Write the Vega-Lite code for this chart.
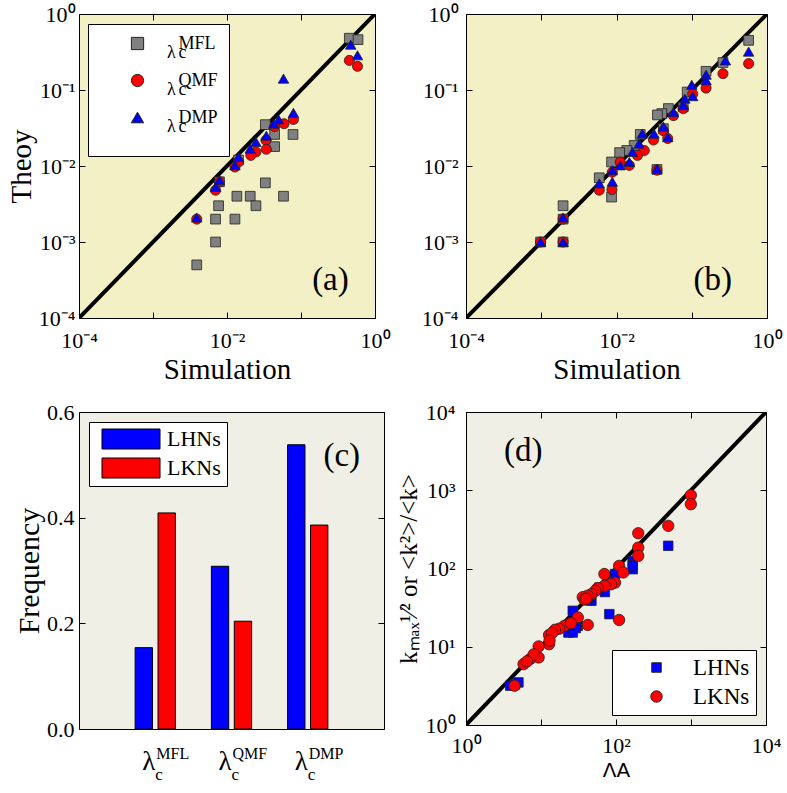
{
  "$schema": "https://vega.github.io/schema/vega-lite/v6.json",
  "background": "white",
  "padding": {"left": 6, "top": 2, "right": 5, "bottom": 3},
  "bounds": "flush",
  "columns": 2,
  "spacing": {"row": 94, "column": 82},
  "resolve": {
    "scale": {"color": "independent", "shape": "independent", "size": "independent"},
    "legend": {"color": "independent", "shape": "independent", "size": "independent"}
  },
  "config": {
    "font": "Liberation Serif",
    "view": {"stroke": "black", "strokeWidth": 1},
    "style": {"guide-label": {"lineHeight": 9.5}},
    "axis": {
      "labelFont": "Liberation Serif", "labelFontSize": 22, "labelColor": "black",
      "titleFont": "Liberation Serif", "titleFontSize": 29, "titleFontWeight": "normal", "titleColor": "black",
      "domain": false, "grid": false, "tickColor": "black", "tickSize": -6,
      "labelFlush": false, "labelOverlap": false, "labelPadding": 6
    },
    "legend": {
      "labelFont": "Liberation Serif", "labelColor": "black", "labelLimit": 0,
      "fillColor": "white", "strokeColor": "black"
    }
  },
  "datasets": {
    "diag": [{"x": 0.0001, "y": 0.0001}, {"x": 1, "y": 1}],
    "diagd": [{"x": 1, "y": 1}, {"x": 10000, "y": 10000}],
    "a": [
      {"m": "MFL", "sim": 0.45, "th": 0.48}, {"m": "MFL", "sim": 0.59, "th": 0.46},
      {"m": "MFL", "sim": 0.033, "th": 0.035}, {"m": "MFL", "sim": 0.044, "th": 0.026},
      {"m": "MFL", "sim": 0.078, "th": 0.026}, {"m": "MFL", "sim": 0.044, "th": 0.018},
      {"m": "MFL", "sim": 0.033, "th": 0.006}, {"m": "MFL", "sim": 0.0136, "th": 0.004},
      {"m": "MFL", "sim": 0.0206, "th": 0.004}, {"m": "MFL", "sim": 0.058, "th": 0.004},
      {"m": "MFL", "sim": 0.0246, "th": 0.003}, {"m": "MFL", "sim": 0.0077, "th": 0.003},
      {"m": "MFL", "sim": 0.007, "th": 0.002}, {"m": "MFL", "sim": 0.0128, "th": 0.002},
      {"m": "MFL", "sim": 0.007, "th": 0.001}, {"m": "MFL", "sim": 0.0039, "th": 0.0005},
      {"m": "MFL", "sim": 0.0079, "th": 0.0062}, {"m": "MFL", "sim": 0.0143, "th": 0.012},
      {"m": "QMF", "sim": 0.45, "th": 0.245}, {"m": "QMF", "sim": 0.58, "th": 0.205},
      {"m": "QMF", "sim": 0.079, "th": 0.041}, {"m": "QMF", "sim": 0.059, "th": 0.036},
      {"m": "QMF", "sim": 0.044, "th": 0.033}, {"m": "QMF", "sim": 0.0336, "th": 0.0218},
      {"m": "QMF", "sim": 0.034, "th": 0.0166}, {"m": "QMF", "sim": 0.0246, "th": 0.0153},
      {"m": "QMF", "sim": 0.021, "th": 0.0138}, {"m": "QMF", "sim": 0.0143, "th": 0.0113},
      {"m": "QMF", "sim": 0.0128, "th": 0.0097}, {"m": "QMF", "sim": 0.0079, "th": 0.0062},
      {"m": "QMF", "sim": 0.007, "th": 0.0048}, {"m": "QMF", "sim": 0.0039, "th": 0.002},
      {"m": "DMP", "sim": 0.47, "th": 0.395}, {"m": "DMP", "sim": 0.58, "th": 0.286},
      {"m": "DMP", "sim": 0.058, "th": 0.141}, {"m": "DMP", "sim": 0.079, "th": 0.05},
      {"m": "DMP", "sim": 0.0498, "th": 0.041}, {"m": "DMP", "sim": 0.043, "th": 0.036},
      {"m": "DMP", "sim": 0.034, "th": 0.025}, {"m": "DMP", "sim": 0.0246, "th": 0.0207},
      {"m": "DMP", "sim": 0.0206, "th": 0.0169}, {"m": "DMP", "sim": 0.0143, "th": 0.0132},
      {"m": "DMP", "sim": 0.0128, "th": 0.0102}, {"m": "DMP", "sim": 0.0079, "th": 0.0065},
      {"m": "DMP", "sim": 0.007, "th": 0.0053}, {"m": "DMP", "sim": 0.0039, "th": 0.0021}
    ],
    "b": [
      {"m": "MFL", "sim": 0.57, "th": 0.45}, {"m": "MFL", "sim": 0.26, "th": 0.23},
      {"m": "MFL", "sim": 0.155, "th": 0.176}, {"m": "MFL", "sim": 0.087, "th": 0.094},
      {"m": "MFL", "sim": 0.049, "th": 0.057}, {"m": "MFL", "sim": 0.04, "th": 0.049},
      {"m": "MFL", "sim": 0.035, "th": 0.047}, {"m": "MFL", "sim": 0.0207, "th": 0.026},
      {"m": "MFL", "sim": 0.0172, "th": 0.0187}, {"m": "MFL", "sim": 0.0137, "th": 0.016},
      {"m": "MFL", "sim": 0.011, "th": 0.015}, {"m": "MFL", "sim": 0.0086, "th": 0.0113},
      {"m": "MFL", "sim": 0.0059, "th": 0.007}, {"m": "MFL", "sim": 0.0086, "th": 0.0039},
      {"m": "MFL", "sim": 0.00195, "th": 0.003}, {"m": "MFL", "sim": 0.00098, "th": 0.001},
      {"m": "MFL", "sim": 0.00195, "th": 0.001}, {"m": "MFL", "sim": 0.00195, "th": 0.002},
      {"m": "MFL", "sim": 0.0345, "th": 0.009}, {"m": "MFL", "sim": 0.042, "th": 0.031},
      {"m": "MFL", "sim": 0.077, "th": 0.06},
      {"m": "QMF", "sim": 0.57, "th": 0.222}, {"m": "QMF", "sim": 0.26, "th": 0.164},
      {"m": "QMF", "sim": 0.155, "th": 0.106}, {"m": "QMF", "sim": 0.103, "th": 0.089},
      {"m": "QMF", "sim": 0.077, "th": 0.057}, {"m": "QMF", "sim": 0.057, "th": 0.046},
      {"m": "QMF", "sim": 0.042, "th": 0.029}, {"m": "QMF", "sim": 0.048, "th": 0.023},
      {"m": "QMF", "sim": 0.031, "th": 0.022}, {"m": "QMF", "sim": 0.0234, "th": 0.016},
      {"m": "QMF", "sim": 0.019, "th": 0.0138}, {"m": "QMF", "sim": 0.0148, "th": 0.0102},
      {"m": "QMF", "sim": 0.0112, "th": 0.0113}, {"m": "QMF", "sim": 0.0088, "th": 0.0083},
      {"m": "QMF", "sim": 0.0059, "th": 0.0048}, {"m": "QMF", "sim": 0.0087, "th": 0.0049},
      {"m": "QMF", "sim": 0.0345, "th": 0.0088}, {"m": "QMF", "sim": 0.00195, "th": 0.002},
      {"m": "QMF", "sim": 0.00098, "th": 0.001}, {"m": "QMF", "sim": 0.00195, "th": 0.001},
      {"m": "DMP", "sim": 0.57, "th": 0.32}, {"m": "DMP", "sim": 0.28, "th": 0.245},
      {"m": "DMP", "sim": 0.155, "th": 0.159}, {"m": "DMP", "sim": 0.155, "th": 0.134},
      {"m": "DMP", "sim": 0.1, "th": 0.117}, {"m": "DMP", "sim": 0.103, "th": 0.083},
      {"m": "DMP", "sim": 0.081, "th": 0.077}, {"m": "DMP", "sim": 0.077, "th": 0.063},
      {"m": "DMP", "sim": 0.057, "th": 0.051}, {"m": "DMP", "sim": 0.042, "th": 0.033},
      {"m": "DMP", "sim": 0.048, "th": 0.024}, {"m": "DMP", "sim": 0.0315, "th": 0.0267},
      {"m": "DMP", "sim": 0.022, "th": 0.0267}, {"m": "DMP", "sim": 0.02, "th": 0.0197},
      {"m": "DMP", "sim": 0.0163, "th": 0.0153}, {"m": "DMP", "sim": 0.0148, "th": 0.0113},
      {"m": "DMP", "sim": 0.0112, "th": 0.0102}, {"m": "DMP", "sim": 0.0088, "th": 0.0088},
      {"m": "DMP", "sim": 0.0088, "th": 0.0062}, {"m": "DMP", "sim": 0.0059, "th": 0.0059},
      {"m": "DMP", "sim": 0.0345, "th": 0.0092}, {"m": "DMP", "sim": 0.00195, "th": 0.0021},
      {"m": "DMP", "sim": 0.00098, "th": 0.001}, {"m": "DMP", "sim": 0.00195, "th": 0.001}
    ],
    "bars": [
      {"method": "MFL", "net": "LHNs", "freq": 0.154}, {"method": "MFL", "net": "LKNs", "freq": 0.409},
      {"method": "QMF", "net": "LHNs", "freq": 0.308}, {"method": "QMF", "net": "LKNs", "freq": 0.204},
      {"method": "DMP", "net": "LHNs", "freq": 0.538}, {"method": "DMP", "net": "LKNs", "freq": 0.386}
    ],
    "methods": [{"method": "MFL"}, {"method": "QMF"}, {"method": "DMP"}],
    "d": [
      {"net": "LHNs", "lam": 497, "k": 195}, {"net": "LHNs", "lam": 167, "k": 125},
      {"net": "LHNs", "lam": 167, "k": 98}, {"net": "LHNs", "lam": 167, "k": 110},
      {"net": "LHNs", "lam": 97, "k": 85}, {"net": "LHNs", "lam": 81.5, "k": 26.1},
      {"net": "LHNs", "lam": 71, "k": 50}, {"net": "LHNs", "lam": 47, "k": 38.7},
      {"net": "LHNs", "lam": 26.5, "k": 28.8}, {"net": "LHNs", "lam": 31, "k": 18.5},
      {"net": "LHNs", "lam": 29, "k": 17.3}, {"net": "LHNs", "lam": 23.2, "k": 15.2},
      {"net": "LHNs", "lam": 26.5, "k": 15.2}, {"net": "LHNs", "lam": 5.0, "k": 3.5},
      {"net": "LHNs", "lam": 3.89, "k": 3.18}, {"net": "LHNs", "lam": 4.5, "k": 3.3},
      {"net": "LHNs", "lam": 42, "k": 42}, {"net": "LHNs", "lam": 60, "k": 57},
      {"net": "LKNs", "lam": 995, "k": 863}, {"net": "LKNs", "lam": 995, "k": 663},
      {"net": "LKNs", "lam": 497, "k": 351}, {"net": "LKNs", "lam": 198, "k": 282},
      {"net": "LKNs", "lam": 198, "k": 185}, {"net": "LKNs", "lam": 198, "k": 145},
      {"net": "LKNs", "lam": 110, "k": 108}, {"net": "LKNs", "lam": 125, "k": 89},
      {"net": "LKNs", "lam": 70, "k": 85}, {"net": "LKNs", "lam": 97, "k": 66},
      {"net": "LKNs", "lam": 86, "k": 63}, {"net": "LKNs", "lam": 70, "k": 60},
      {"net": "LKNs", "lam": 57, "k": 56}, {"net": "LKNs", "lam": 53, "k": 52},
      {"net": "LKNs", "lam": 47, "k": 47}, {"net": "LKNs", "lam": 42, "k": 45},
      {"net": "LKNs", "lam": 36, "k": 43}, {"net": "LKNs", "lam": 38, "k": 40},
      {"net": "LKNs", "lam": 40, "k": 41}, {"net": "LKNs", "lam": 31, "k": 23.7},
      {"net": "LKNs", "lam": 42, "k": 19}, {"net": "LKNs", "lam": 110, "k": 22},
      {"net": "LKNs", "lam": 20.5, "k": 18.5}, {"net": "LKNs", "lam": 17.5, "k": 17},
      {"net": "LKNs", "lam": 15.4, "k": 16.5}, {"net": "LKNs", "lam": 12.8, "k": 14.1},
      {"net": "LKNs", "lam": 12.8, "k": 10.8}, {"net": "LKNs", "lam": 9.3, "k": 10.1},
      {"net": "LKNs", "lam": 9.3, "k": 7.3}, {"net": "LKNs", "lam": 7.2, "k": 7.0},
      {"net": "LKNs", "lam": 5.85, "k": 6.0}, {"net": "LKNs", "lam": 4.44, "k": 3.18},
      {"net": "LKNs", "lam": 14, "k": 15}, {"net": "LKNs", "lam": 13, "k": 12},
      {"net": "LKNs", "lam": 8, "k": 8}, {"net": "LKNs", "lam": 6.5, "k": 6.5},
      {"net": "LKNs", "lam": 25, "k": 20}
    ]
  },
  "concat": [
    {
      "width": 296, "height": 304,
      "view": {"fill": "#f2f0c4"},
      "resolve": {"legend": {"color": "independent", "shape": "independent"}, "axis": {"x": "independent", "y": "independent"}},
      "layer": [
        {
          "data": {"name": "diag"},
          "mark": {"type": "line", "color": "black", "strokeWidth": 4, "clip": true},
          "encoding": {
            "x": {"field": "x", "type": "quantitative", "axis": null},
            "y": {"field": "y", "type": "quantitative", "axis": null}
          }
        },
        {
          "data": {"name": "a"},
          "mark": {"type": "point", "filled": true, "opacity": 0},
          "encoding": {
            "x": {"field": "sim", "type": "quantitative", "axis": {"orient": "top", "labels": false, "title": null, "values": [0.0001, 0.001, 0.01, 0.1, 1]}},
            "y": {"field": "th", "type": "quantitative", "axis": {"orient": "right", "labels": false, "title": null, "values": [0.0001, 0.001, 0.01, 0.1, 1]}},
            "color": {"field": "m", "type": "nominal", "scale": {"domain": ["MFL", "QMF", "DMP"], "range": ["#808080", "#ff0000", "#0000ff"]},
              "legend": {"title": null, "orient": "none", "legendX": 9, "legendY": 10, "zindex": 0, "fillColor": "white", "strokeColor": "black",
                "padding": 10.5, "rowPadding": 0, "symbolSize": 150, "symbolStrokeWidth": 1, "symbolOpacity": 0, "symbolOffset": 0, "labelOffset": 62,
                "labelFontSize": 18, "labelExpr": "[datum.label, '', '']",
                "encode": {"labels": {"lineHeight": {"value": 9.5}}}}}
          }
        },
        {
          "data": {"name": "a"},
          "mark": {"type": "point", "filled": true, "opacity": 1, "stroke": "#222", "strokeWidth": 0.8},
          "encoding": {
            "x": {"field": "sim", "type": "quantitative", "axis": null},
            "y": {"field": "th", "type": "quantitative", "axis": null},
            "shape": {"field": "m", "type": "nominal", "scale": {"domain": ["MFL", "QMF", "DMP"], "range": ["square", "circle", "triangle-up"]},
              "legend": {"title": null, "orient": "none", "legendX": 9, "legendY": 10, "zindex": 1, "fillColor": "transparent", "strokeColor": "transparent",
                "padding": 10.5, "rowPadding": 0, "symbolSize": 150, "symbolStrokeColor": "#222", "symbolStrokeWidth": 1, "symbolOffset": 30, "labelOffset": 20.5,
                "labelFontSize": 18, "labelExpr": "['', 'λ', '']",
                "encode": {"labels": {"lineHeight": {"value": 9.5}}}}},
            "size": {"field": "m", "type": "nominal", "scale": {"domain": ["MFL", "QMF", "DMP"], "range": [95, 110, 150]}, "legend": null},
            "color": {"field": "m", "type": "nominal", "scale": {"domain": ["MFL", "QMF", "DMP"], "range": ["#808080", "#ff0000", "#0000ff"]},
              "legend": {"title": null, "orient": "none", "legendX": 9, "legendY": 10, "zindex": 1, "fillColor": "transparent", "strokeColor": "transparent",
                "padding": 10.5, "rowPadding": 0, "symbolSize": 150, "symbolStrokeColor": "#222", "symbolStrokeWidth": 1, "symbolOffset": 30, "labelOffset": 20.5,
                "labelFontSize": 18, "labelExpr": "['', 'λ', '']",
                "encode": {"labels": {"lineHeight": {"value": 9.5}}}}}
          }
        },
        {
          "data": {"name": "a"},
          "mark": {"type": "point", "filled": true, "opacity": 0},
          "encoding": {
            "x": {"field": "sim", "type": "quantitative", "axis": null},
            "y": {"field": "th", "type": "quantitative", "axis": null},
            "color": {"field": "m", "type": "nominal", "scale": {"domain": ["MFL", "QMF", "DMP"], "range": ["#808080", "#ff0000", "#0000ff"]},
              "legend": {"title": null, "orient": "none", "legendX": 9, "legendY": 10, "zindex": 1, "fillColor": "transparent", "strokeColor": "transparent",
                "padding": 10.5, "rowPadding": 0, "symbolSize": 150, "symbolStrokeWidth": 1, "symbolOpacity": 0, "symbolOffset": 0, "labelOffset": 62,
                "labelFontSize": 18, "labelExpr": "['', '', 'c']",
                "encode": {"labels": {"lineHeight": {"value": 9.5}}}}}
          }
        },
        {
          "data": {"values": [{}]},
          "mark": {"type": "text", "text": "(a)", "fontSize": 33, "align": "center", "baseline": "middle"},
          "encoding": {
            "x": {"datum": 0.25, "type": "quantitative",
              "scale": {"type": "log", "domain": [0.0001, 1], "nice": false},
              "axis": {"title": "Simulation", "values": [0.0001, 0.001, 0.01, 0.1, 1], "labelPadding": 18,
                "labelExpr": "round(log(datum.value)/LN10) % 2 == 0 ? '10' + (round(log(datum.value)/LN10) < 0 ? '⁻' : '') + ['⁰','¹','²','³','⁴'][abs(round(log(datum.value)/LN10))] : ''"}},
            "y": {"datum": 0.00032, "type": "quantitative",
              "scale": {"type": "log", "domain": [0.0001, 1], "nice": false},
              "axis": {"title": "Theoy", "titlePadding": 2, "values": [0.0001, 0.001, 0.01, 0.1, 1], "labelPadding": 10,
                "labelExpr": "'10' + (round(log(datum.value)/LN10) < 0 ? '⁻' : '') + ['⁰','¹','²','³','⁴'][abs(round(log(datum.value)/LN10))]"}}
          }
        }
      ]
    },
    {
      "width": 301, "height": 304,
      "view": {"fill": "#f2f0c4"},
      "resolve": {"axis": {"x": "independent", "y": "independent"}},
      "layer": [
        {
          "data": {"name": "diag"},
          "mark": {"type": "line", "color": "black", "strokeWidth": 4, "clip": true},
          "encoding": {
            "x": {"field": "x", "type": "quantitative", "axis": null},
            "y": {"field": "y", "type": "quantitative", "axis": null}
          }
        },
        {
          "data": {"name": "b"},
          "mark": {"type": "point", "filled": true, "opacity": 1, "stroke": "#222", "strokeWidth": 0.8},
          "encoding": {
            "x": {"field": "sim", "type": "quantitative", "axis": {"orient": "top", "labels": false, "title": null, "values": [0.0001, 0.001, 0.01, 0.1, 1]}},
            "y": {"field": "th", "type": "quantitative", "axis": {"orient": "right", "labels": false, "title": null, "values": [0.0001, 0.001, 0.01, 0.1, 1]}},
            "shape": {"field": "m", "type": "nominal", "scale": {"domain": ["MFL", "QMF", "DMP"], "range": ["square", "circle", "triangle-up"]}, "legend": null},
            "size": {"field": "m", "type": "nominal", "scale": {"domain": ["MFL", "QMF", "DMP"], "range": [95, 110, 150]}, "legend": null},
            "color": {"field": "m", "type": "nominal", "scale": {"domain": ["MFL", "QMF", "DMP"], "range": ["#808080", "#ff0000", "#0000ff"]}, "legend": null}
          }
        },
        {
          "data": {"values": [{}]},
          "mark": {"type": "text", "text": "(b)", "fontSize": 33, "align": "center", "baseline": "middle"},
          "encoding": {
            "x": {"datum": 0.19, "type": "quantitative",
              "scale": {"type": "log", "domain": [0.0001, 1], "nice": false},
              "axis": {"title": "Simulation", "values": [0.0001, 0.001, 0.01, 0.1, 1], "labelPadding": 18,
                "labelExpr": "round(log(datum.value)/LN10) % 2 == 0 ? '10' + (round(log(datum.value)/LN10) < 0 ? '⁻' : '') + ['⁰','¹','²','³','⁴'][abs(round(log(datum.value)/LN10))] : ''"}},
            "y": {"datum": 0.00032, "type": "quantitative",
              "scale": {"type": "log", "domain": [0.0001, 1], "nice": false},
              "axis": {"title": null, "values": [0.0001, 0.001, 0.01, 0.1, 1], "labelPadding": 14,
                "labelExpr": "'10' + (round(log(datum.value)/LN10) < 0 ? '⁻' : '') + ['⁰','¹','²','³','⁴'][abs(round(log(datum.value)/LN10))]"}}
          }
        }
      ]
    },
    {
      "width": 305, "height": 317,
      "view": {"fill": "#f0efe6"},
      "resolve": {"axis": {"y": "independent"}},
      "layer": [
        {
          "data": {"name": "bars"},
          "mark": {"type": "bar", "stroke": "black", "strokeWidth": 1},
          "encoding": {
            "x": {"field": "method", "type": "nominal", "sort": ["MFL", "QMF", "DMP"], "scale": {"paddingInner": 0.4, "paddingOuter": 0.7}, "axis": null},
            "xOffset": {"field": "net", "type": "nominal", "sort": ["LHNs", "LKNs"], "scale": {"paddingInner": 0.243, "paddingOuter": 0.12}},
            "y": {"field": "freq", "type": "quantitative", "scale": {"domain": [0, 0.6], "nice": false},
              "axis": {"title": "Frequency", "titleFontSize": 30, "titlePadding": 2, "values": [0, 0.2, 0.4, 0.6], "format": ".1f", "labelPadding": 11}},
            "color": {"field": "net", "type": "nominal", "scale": {"domain": ["LHNs", "LKNs"], "range": ["#0000ff", "#ff0000"]},
              "legend": {"title": null, "orient": "top-left", "offset": 10, "padding": 6, "rowPadding": 5, "symbolType": "M-2.9,-1H2.9V1H-2.9Z", "symbolSize": 400, "symbolStrokeColor": "black", "symbolStrokeWidth": 1, "symbolOffset": 25, "labelOffset": 25, "labelFontSize": 22}}
          }
        },
        {
          "data": {"name": "methods"},
          "mark": {"type": "text", "text": "λ", "fontSize": 27, "align": "right", "baseline": "alphabetic", "dx": 0, "dy": 41},
          "encoding": {
            "x": {"field": "method", "type": "nominal", "sort": ["MFL", "QMF", "DMP"], "axis": null},
            "y": {"datum": 0, "type": "quantitative", "axis": null}
          }
        },
        {
          "data": {"name": "methods"},
          "mark": {"type": "text", "text": "c", "fontSize": 17, "align": "left", "baseline": "alphabetic", "dx": 0, "dy": 51},
          "encoding": {
            "x": {"field": "method", "type": "nominal", "sort": ["MFL", "QMF", "DMP"], "axis": null},
            "y": {"datum": 0, "type": "quantitative", "axis": null}
          }
        },
        {
          "data": {"name": "methods"},
          "mark": {"type": "text", "fontSize": 16, "align": "left", "baseline": "alphabetic", "dx": 1, "dy": 30},
          "encoding": {
            "x": {"field": "method", "type": "nominal", "sort": ["MFL", "QMF", "DMP"], "axis": null},
            "y": {"datum": 0, "type": "quantitative", "axis": null},
            "text": {"field": "method"}
          }
        },
        {
          "data": {"values": [{}]},
          "mark": {"type": "text", "text": "(c)", "fontSize": 33, "align": "center", "baseline": "middle", "dx": 34},
          "encoding": {
            "x": {"datum": "DMP", "type": "nominal", "axis": null},
            "y": {"datum": 0.517, "type": "quantitative", "axis": {"orient": "right", "labels": false, "title": null, "values": [0, 0.2, 0.4, 0.6]}}
          }
        }
      ]
    },
    {
      "width": 300, "height": 313,
      "view": {"fill": "#f0efe6"},
      "resolve": {"axis": {"x": "independent", "y": "independent"}},
      "layer": [
        {
          "data": {"name": "diagd"},
          "mark": {"type": "line", "color": "black", "strokeWidth": 4, "clip": true},
          "encoding": {
            "x": {"field": "x", "type": "quantitative", "axis": null},
            "y": {"field": "y", "type": "quantitative", "axis": null}
          }
        },
        {
          "data": {"name": "d"},
          "mark": {"type": "point", "filled": true, "opacity": 1, "stroke": "#222", "strokeWidth": 0.8},
          "encoding": {
            "x": {"field": "lam", "type": "quantitative", "axis": {"orient": "top", "labels": false, "title": null, "values": [1, 10, 100, 1000, 10000]}},
            "y": {"field": "k", "type": "quantitative", "axis": {"orient": "right", "labels": false, "title": null, "values": [1, 10, 100, 1000, 10000]}},
            "shape": {"field": "net", "type": "nominal", "scale": {"domain": ["LHNs", "LKNs"], "range": ["square", "circle"]}, "legend": null},
            "size": {"field": "net", "type": "nominal", "scale": {"domain": ["LHNs", "LKNs"], "range": [90, 130]}, "legend": null},
            "color": {"field": "net", "type": "nominal", "scale": {"domain": ["LHNs", "LKNs"], "range": ["#0000ff", "#ff0000"]},
              "legend": {"title": null, "orient": "bottom-right", "offset": 10, "padding": 6, "rowPadding": 5, "symbolSize": 140, "symbolStrokeColor": "#222", "symbolStrokeWidth": 1, "symbolOffset": 27, "labelOffset": 25, "labelFontSize": 23}}
          }
        },
        {
          "data": {"values": [{}]},
          "mark": {"type": "text", "text": "(d)", "fontSize": 33, "align": "center", "baseline": "middle"},
          "encoding": {
            "x": {"datum": 5.8, "type": "quantitative",
              "scale": {"type": "log", "domain": [1, 10000], "nice": false},
              "axis": {"title": "ΛA", "titleFontSize": 20, "titleFont": "DejaVu Sans", "values": [1, 10, 100, 1000, 10000], "labelPadding": 16,
                "labelExpr": "round(log(datum.value)/LN10) % 2 == 0 ? '10' + ['⁰','¹','²','³','⁴'][round(log(datum.value)/LN10)] : ''"}},
            "y": {"datum": 3160, "type": "quantitative",
              "scale": {"type": "log", "domain": [1, 10000], "nice": false},
              "axis": {"title": "kₘₐₓ¹⁄² or <k²>/<k>", "titleFontSize": 25, "values": [1, 10, 100, 1000, 10000], "labelPadding": 17,
                "labelExpr": "'10' + ['⁰','¹','²','³','⁴'][round(log(datum.value)/LN10)]"}}
          }
        }
      ]
    }
  ]
}
